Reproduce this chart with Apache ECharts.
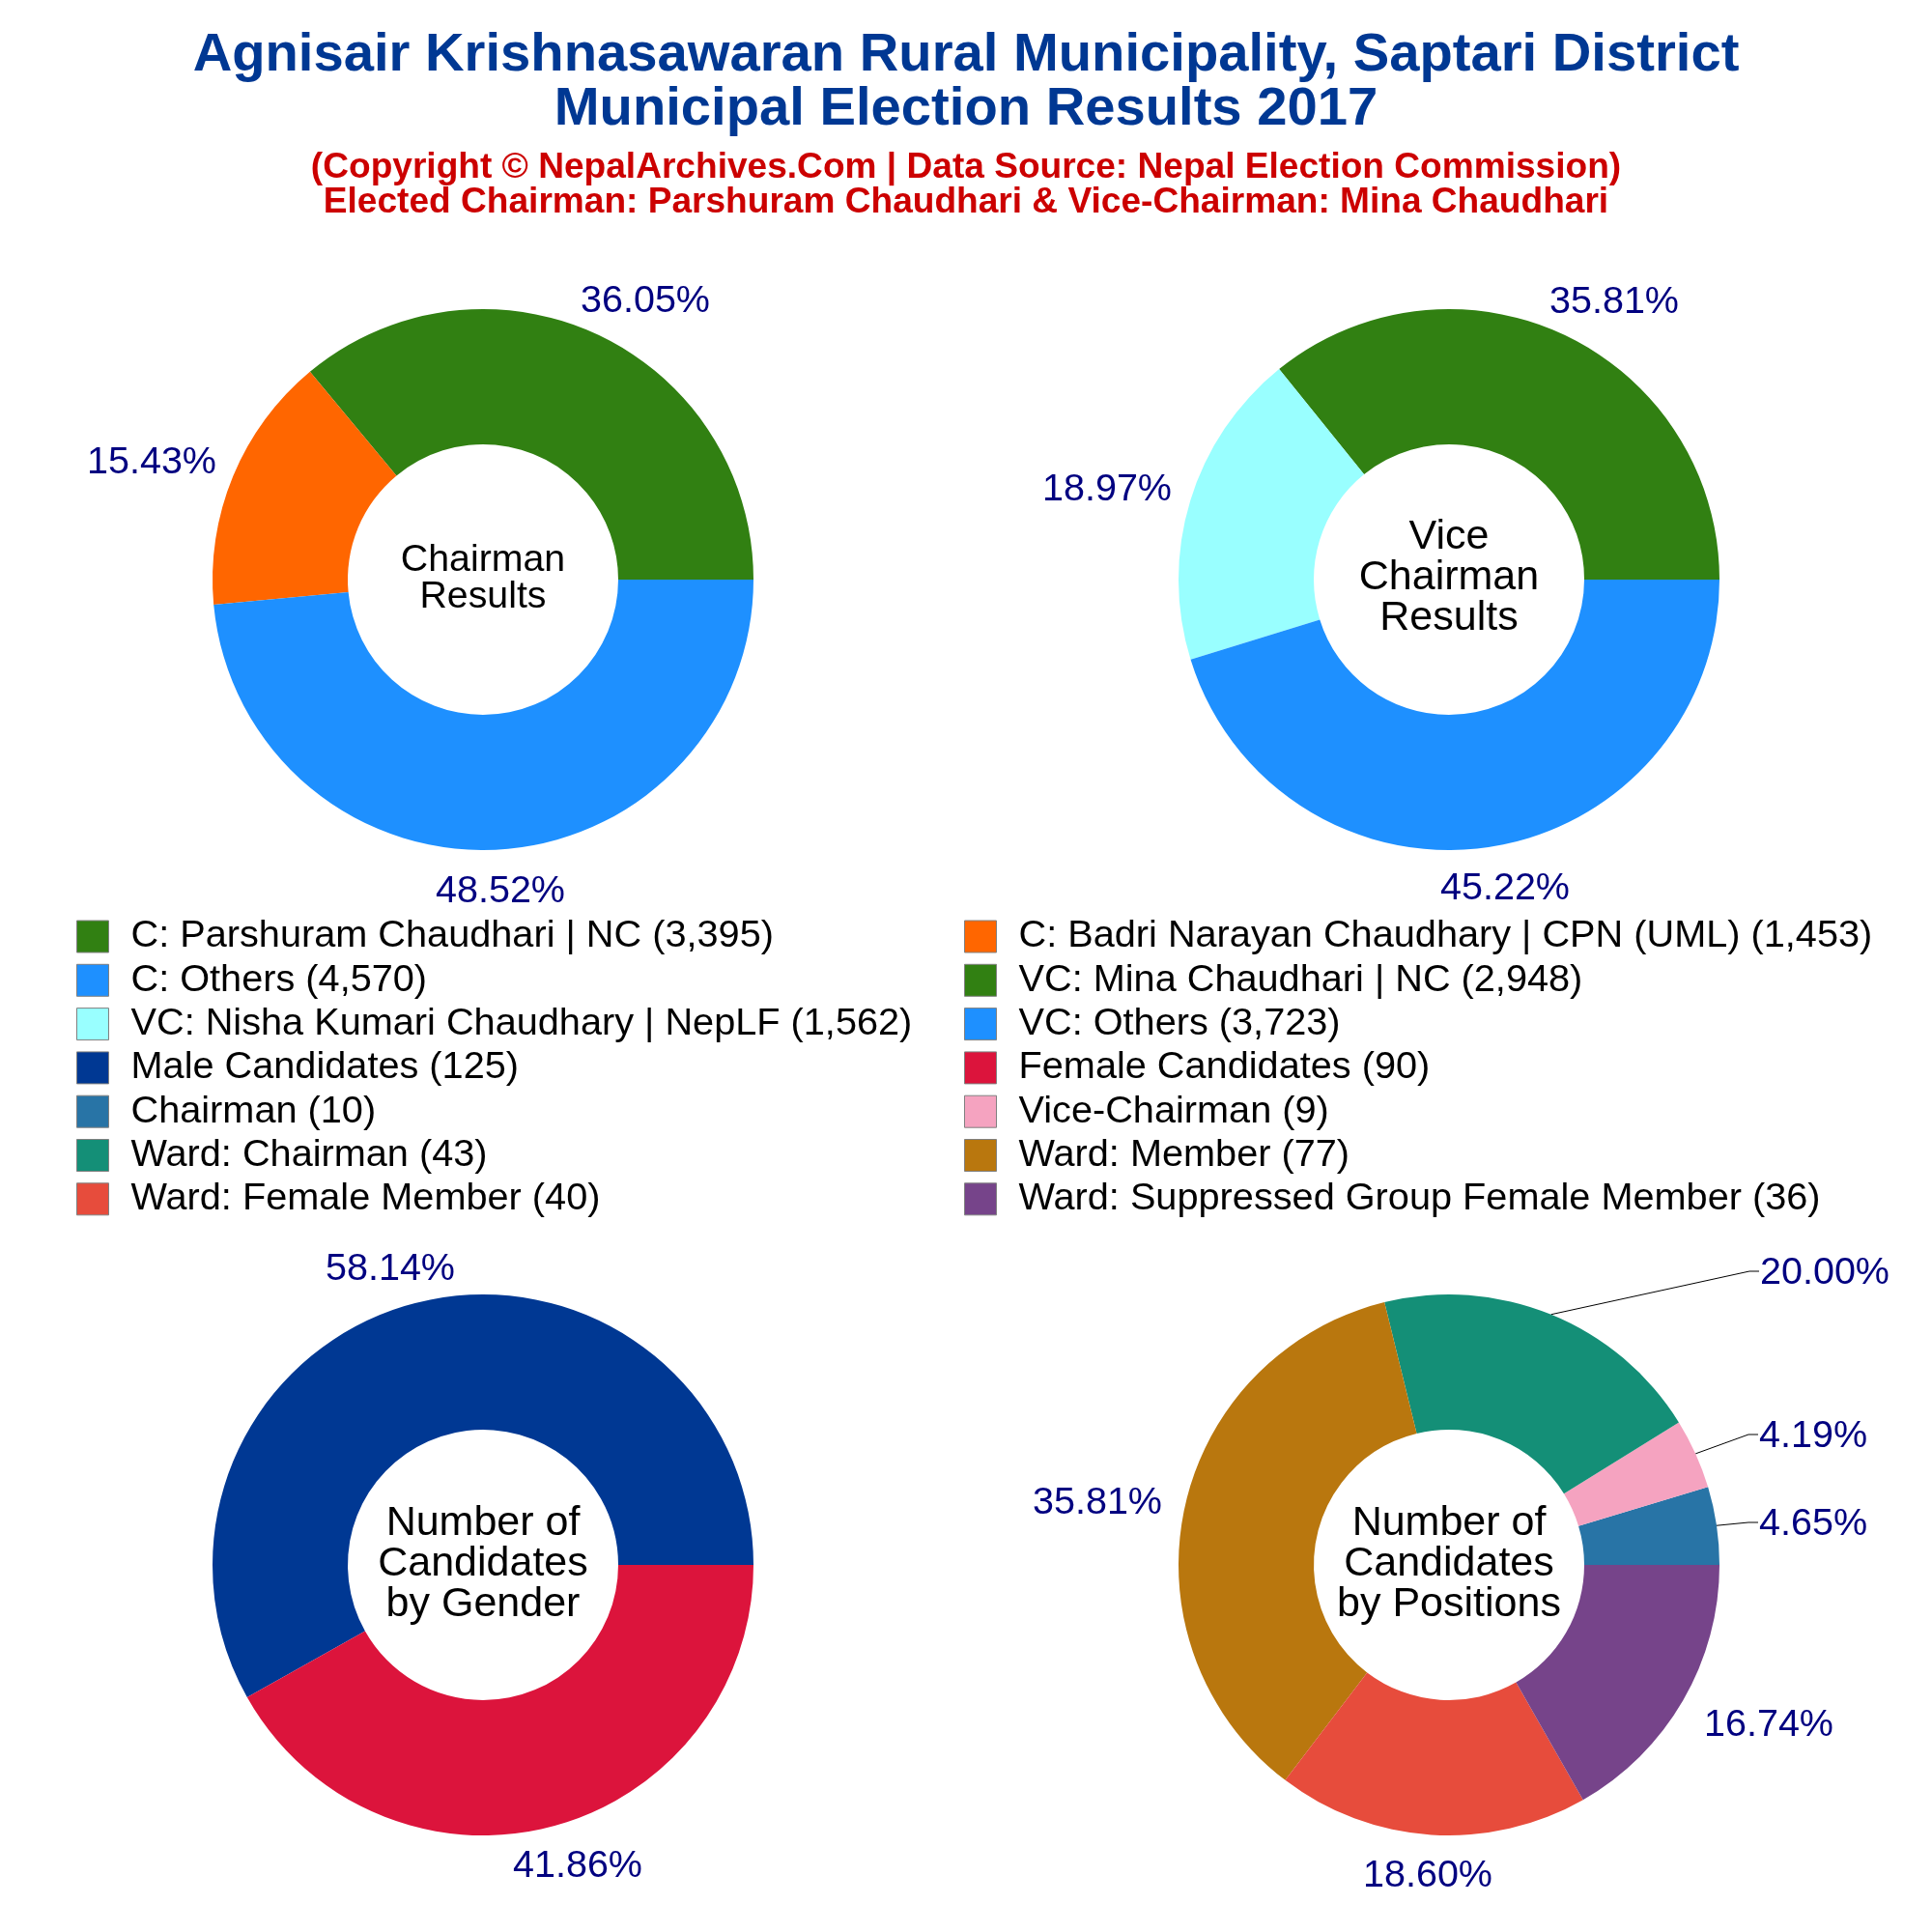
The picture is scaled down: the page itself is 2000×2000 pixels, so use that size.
<!DOCTYPE html>
<html>
<head>
<meta charset="utf-8">
<title>Agnisair Krishnasawaran Rural Municipality</title>
<script src="https://cdn.jsdelivr.net/npm/echarts@6/dist/echarts.min.js"></script>
<style>
    html, body { margin: 0; padding: 0; background: #fff; }
    #main { width: 2000px; height: 2000px; }
</style>
</head>
<body>
<div id="main"></div>
<script>
    var titleLines = 'Agnisair Krishnasawaran Rural Municipality, Saptari District\nMunicipal Election Results 2017';
    var subtitleLines = '(Copyright © NepalArchives.Com | Data Source: Nepal Election Commission)\nElected Chairman: Parshuram Chaudhari & Vice-Chairman: Mina Chaudhari';

    var chairmanNames = ['C: Parshuram Chaudhari | NC', 'C: Badri Narayan Chaudhary | CPN (UML)', 'C: Others'];
    var chairmanVotes = [3395, 1453, 4570];
    var chairmanColors = ['#318012', '#FF6600', '#1E90FF'];

    var viceNames = ['VC: Mina Chaudhari | NC', 'VC: Nisha Kumari Chaudhary | NepLF', 'VC: Others'];
    var viceVotes = [2948, 1562, 3723];
    var viceColors = ['#318012', '#99FFFF', '#1E90FF'];

    var genderNames = ['Male Candidates', 'Female Candidates'];
    var genderCounts = [125, 90];
    var genderColors = ['#003893', '#DC143C'];

    var positionNames = ['Chairman', 'Vice-Chairman', 'Ward: Chairman', 'Ward: Member', 'Ward: Female Member', 'Ward: Suppressed Group Female Member'];
    var positionCounts = [10, 9, 43, 77, 40, 36];
    var positionColors = ['#2874A6', '#F5A3C0', '#148F77', '#B9770E', '#E74C3C', '#76448A'];

    var chart = echarts.init(document.getElementById('main'));
    var labelFont = 39.5;
    var fontName = '"Liberation Sans", Arial, sans-serif';
    var legendNames = [];

    function toItems(names, values, colors, leaderCount) {
        return names.map(function (n, i) {
            var full = n + ' (' + values[i].toLocaleString('en-US') + ')';
            legendNames.push(full);
            return {
                name: full,
                value: values[i],
                itemStyle: { color: colors[i] },
                labelLine: { show: i < leaderCount, length: 10, length2: 10, lineStyle: { color: '#000', width: 1 } }
            };
        });
    }

    // label centres, one list per pie
    function makePie(center, names, values, colors, spots, leaderCount) {
        var total = values.reduce(function (a, b) { return a + b; }, 0);
        return {
            type: 'pie',
            center: center,
            radius: [140, 280],
            startAngle: 0,
            clockwise: false,
            silent: true,
            animation: false,
            avoidLabelOverlap: false,
            data: toItems(names, values, colors, leaderCount),
            label: {
                show: true,
                position: 'outside',
                color: '#000080',
                fontFamily: fontName,
                fontSize: labelFont,
                formatter: function (p) { return (p.value / total * 100).toFixed(2) + '%'; }
            },
            labelLayout: function (p) {
                var s = spots[p.dataIndex];
                var out = { x: s[0], y: s[1], align: 'center', verticalAlign: 'middle' };
                if (p.dataIndex < leaderCount && p.labelLinePoints) {
                    var left = s[0] - p.labelRect.width / 2;
                    out.labelLinePoints = [p.labelLinePoints[0], [left - 11, s[1] - 2], [left - 1, s[1] - 2]];
                }
                return out;
            }
        };
    }

    var series = [
        makePie([500, 600], chairmanNames, chairmanVotes, chairmanColors, [[668, 312], [157, 479], [518, 923]], 0),
        makePie([1500, 600], viceNames, viceVotes, viceColors, [[1671, 313], [1146, 507], [1558, 920]], 0),
        makePie([500, 1620], genderNames, genderCounts, genderColors, [[404, 1314], [598, 1932]], 0),
        makePie([1500, 1620], positionNames, positionCounts, positionColors,
            [[1877, 1578], [1877, 1487], [1889, 1318], [1136, 1556], [1478, 1942], [1831, 1786]], 3)
    ];

    function legendSide(left, keep) {
        return {
            left: left,
            top: 949.5,
            orient: 'vertical',
            icon: 'rect',
            itemWidth: 33,
            itemHeight: 33,
            itemGap: 5.3,
            selectedMode: false,
            padding: 0,
            itemStyle: { borderColor: '#808080', borderWidth: 1 },
            textStyle: { fontFamily: fontName, fontSize: 39.7, color: '#000', padding: [0, 0, 0, 18] },
            data: legendNames.filter(function (n, i) { return i % 2 === keep; })
        };
    }

    function centerText(x, y, text, size) {
        return {
            type: 'text',
            x: x,
            y: y,
            silent: true,
            style: {
                text: text,
                fontFamily: fontName,
                fontSize: size,
                lineHeight: size * 0.98,
                fill: '#000',
                align: 'center',
                verticalAlign: 'middle'
            }
        };
    }

    var option = {
        backgroundColor: '#fff',
        animation: false,
        title: [
            {
                text: titleLines,
                left: 1000,
                top: 30,
                textAlign: 'center',
                padding: 0,
                textStyle: { fontFamily: fontName, fontSize: 56.2, fontWeight: 'bold', color: '#003893', lineHeight: 56 }
            },
            {
                text: subtitleLines,
                left: 1000,
                top: 156,
                textAlign: 'center',
                padding: 0,
                textStyle: { fontFamily: fontName, fontSize: 37.1, fontWeight: 'bold', color: '#CC0000', lineHeight: 36 }
            }
        ],
        legend: [legendSide(79, 0), legendSide(998, 1)],
        graphic: [
            centerText(500, 599, 'Chairman\nResults', 39.3),
            centerText(1500, 598, 'Vice\nChairman\nResults', 43),
            centerText(500, 1619, 'Number of\nCandidates\nby Gender', 43),
            centerText(1500, 1619, 'Number of\nCandidates\nby Positions', 43)
        ],
        series: series
    };
    chart.setOption(option);
</script>
</body>
</html>
